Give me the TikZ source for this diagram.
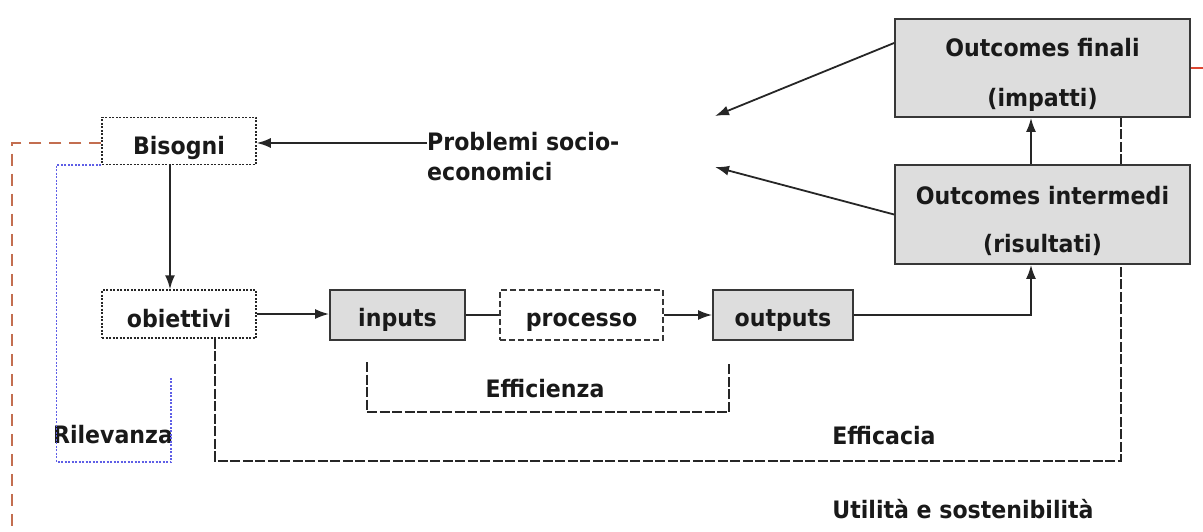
\documentclass[tikz,border=0pt]{standalone}
\usepackage{fontspec}
\setmainfont{DejaVu Sans}[FakeStretch=0.92]
\usetikzlibrary{arrows.meta}
\definecolor{boxgray}{RGB}{221,221,221}
\definecolor{edge}{RGB}{55,55,55}
\definecolor{rust}{RGB}{195,110,80}
\definecolor{rilblue}{RGB}{95,95,230}
\definecolor{tick}{RGB}{220,70,50}
\begin{document}
\begin{tikzpicture}[x=1pt,y=-1pt,
  every node/.style={font=\fontsize{24}{28}\selectfont\bfseries, text=black!90, inner sep=0pt},
  graybox/.style={draw=edge, line width=1.8pt, fill=boxgray},
  dotbox/.style={draw=black!85, line width=1.5pt, dash pattern=on 2pt off 1.5pt},
  dashbox/.style={draw=edge, line width=1.5pt, dash pattern=on 6pt off 3pt},
  rowtext/.style={text height=22pt, text depth=0pt},
  arr/.style={draw=black!85, line width=1.8pt, -{Latex[length=14pt,width=10pt]}},
  conn/.style={draw=black!85, line width=1.8pt},
  bracket/.style={draw=black!85, line width=1.8pt, dash pattern=on 10pt off 2.5pt},
  rel/.style={draw=rilblue, line width=1.5pt, dash pattern=on 2pt off 1.5pt},
  util/.style={draw=rust, line width=2.2pt, dash pattern=on 12pt off 8pt}
]
\useasboundingbox (0,0) rectangle (1203,532);

% boxes
\node[dotbox, text height=28pt, text depth=0pt, minimum width=154pt, minimum height=47pt] (bis) at (179,141) {Bisogni};
\node[dotbox, text height=26pt, text depth=0pt, minimum width=154pt, minimum height=48pt] (obi) at (179,314) {obiettivi};
\node[graybox, rowtext, minimum width=135pt, minimum height=50pt] (inp) at (397.5,315) {inputs};
\node[dashbox, rowtext, minimum width=163pt, minimum height=50pt] (pro) at (581.5,315) {processo};
\node[graybox, rowtext, minimum width=140pt, minimum height=50pt] (out) at (783,315) {outputs};
\node[graybox, minimum width=295pt, minimum height=98pt, align=center,
      font=\fontsize{24}{50}\selectfont\bfseries] (fin) at (1042.5,68)
      {\rule{0pt}{36pt}Outcomes finali\\(impatti)\rule[-8pt]{0pt}{8pt}};
\node[graybox, minimum width=295pt, minimum height=99pt, align=center,
      font=\fontsize{24}{48}\selectfont\bfseries] (int) at (1042.5,214.5)
      {\rule{0pt}{35pt}Outcomes intermedi\\(risultati)\rule[-8pt]{0pt}{8pt}};

% labels
\node[anchor=west, align=left, font=\fontsize{24}{30}\selectfont\bfseries] (prob) at (427,157) {Problemi socio-\\economici};
\node[anchor=base] (effz) at (545,397) {Efficienza};
\node[anchor=base] (effc) at (884,444) {Efficacia};
\node[anchor=base] (ril) at (113,443) {Rilevanza};
\node[anchor=base] (uti) at (963,518) {Utilità e sostenibilità};

% free ends
\coordinate (p1) at (715,116);
\coordinate (p2) at (715,167);
\coordinate (e1) at (367,362);
\coordinate (e2) at (729,362);
\coordinate (ec) at (1121,461);
\coordinate (rb) at (171,462);
\coordinate (rt) at (171,376);
\coordinate (uc) at (12,143);
\coordinate (ub) at (12,540);

% connectors
\draw[arr] ([yshift=-2pt]prob.west |- bis.east) -- ([yshift=-2pt]bis.east);
\draw[arr] ([xshift=-9pt]bis.south) -- ([xshift=-9pt]obi.north);
\draw[arr] (obi.east) -- (obi.east -| inp.west);
\draw[conn] (inp.east) -- (pro.west);
\draw[arr] (pro.east) -- (out.west);
\draw[arr] (out.east) -| ([xshift=-11.5pt]int.south);
\draw[arr] ([xshift=-11.5pt]int.north) -- ([xshift=-11.5pt]fin.south);
\draw[arr] ([yshift=25pt]fin.west) -- (p1);
\draw[arr] (int.west) -- (p2);

% brackets
\draw[bracket] (e1) -- ++(0,50) -| (e2);
\draw[bracket] ([xshift=36pt]obi.south) |- (ec) -- ([xshift=78.5pt]int.south);
\draw[bracket] ([xshift=78.5pt]int.north) -- ([xshift=78.5pt]fin.south);
\draw[rel] (bis.south west) -- ++(-45,0) |- (rb) -- (rt);
\draw[util] ([yshift=-2pt]bis.west) -- (uc) -- (ub);
\draw[draw=tick, line width=1.2pt] (fin.east) -- ++(13,0);
\end{tikzpicture}
\end{document}
